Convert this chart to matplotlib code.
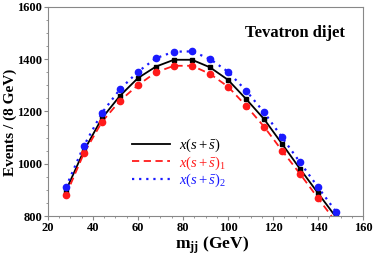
import matplotlib
matplotlib.use("Agg")
import matplotlib.pyplot as plt
from matplotlib.ticker import MultipleLocator

plt.rcParams['font.family'] = ['Liberation Serif', 'DejaVu Serif']
plt.rcParams['mathtext.fontset'] = 'custom'
plt.rcParams['mathtext.rm'] = 'Liberation Serif'
plt.rcParams['mathtext.it'] = 'Liberation Serif:italic'
plt.rcParams['mathtext.bf'] = 'Liberation Serif:bold'

mjj = [28, 36, 44, 52, 60, 68, 76, 84, 92, 100, 108, 116, 124, 132, 140, 148]
base = [897, 1050, 1174, 1260, 1328, 1372, 1398, 1398, 1369, 1321, 1248, 1171, 1076, 980, 887, 795]
set1 = [880, 1040, 1160, 1241, 1301, 1350, 1375, 1375, 1344, 1295, 1222, 1142, 1050, 961, 868, 776]
set2 = [910, 1069, 1195, 1285, 1352, 1404, 1429, 1430, 1401, 1352, 1280, 1197, 1101, 1005, 910, 816]
labels = [r'$x(s+\bar{s})$', r'$x(s+\bar{s})_1$', r'$x(s+\bar{s})_2$']

fig = plt.figure(figsize=(3.74, 2.59), dpi=100)
ax = fig.add_axes([0.128, 0.166, 0.843, 0.807])

ax.plot(mjj, base, color='black', lw=1.3, ls='-', label=labels[0])
ax.plot(mjj, set1, color='#ff1a1a', lw=1.3, ls=(0, (4, 2.5)), label=labels[1])
ax.plot(mjj, set2, color='#1a1aff', lw=1.6, ls=(0, (1, 2.2)), label=labels[2])
ax.plot(mjj, base, 's', color='black', ms=3.5)
ax.plot(mjj, set1, 'o', color='#ff1a1a', ms=4.5)
ax.plot(mjj, set2, 'o', color='#1a1aff', ms=4.5)

ax.set_xlim(20, 160)
ax.set_ylim(800, 1600)
ax.xaxis.set_major_locator(MultipleLocator(20))
ax.xaxis.set_minor_locator(MultipleLocator(5))
ax.yaxis.set_major_locator(MultipleLocator(200))
ax.yaxis.set_minor_locator(MultipleLocator(50))
ax.tick_params(which='both', direction='out', top=False, right=False, color='#888888')
ax.tick_params(which='major', length=3, labelsize=9, pad=1)
ax.tick_params(which='minor', length=1.5)
for lab in ax.get_xticklabels() + ax.get_yticklabels():
    lab.set_fontweight('bold')
for s in ax.spines.values():
    s.set_color('#888888')

ax.set_xlabel(r'm$_{\mathbf{jj}}$ (GeV)', fontsize=12.5, fontweight='bold')
ax.xaxis.set_label_coords(0.52, -0.09, transform=ax.transAxes)
ax.xaxis.label.set_va('top')
ax.set_ylabel('Events / (8 GeV)', fontsize=11, fontweight='bold')
ax.yaxis.set_label_coords(-0.098, 0.45)
ax.text(0.785, 0.875, 'Tevatron dijet', transform=ax.transAxes, ha='center', va='center',
        fontsize=12, fontweight='bold')

leg = ax.legend(loc='center left', bbox_to_anchor=(0.245, 0.254), frameon=False, fontsize=10.5,
                handlelength=2.6, handletextpad=0.6, labelspacing=0.0, borderpad=0)
for t, c in zip(leg.get_texts(), ['black', '#ff1a1a', '#1a1aff']):
    t.set_color(c)

fig.savefig('out.png', dpi=100)
